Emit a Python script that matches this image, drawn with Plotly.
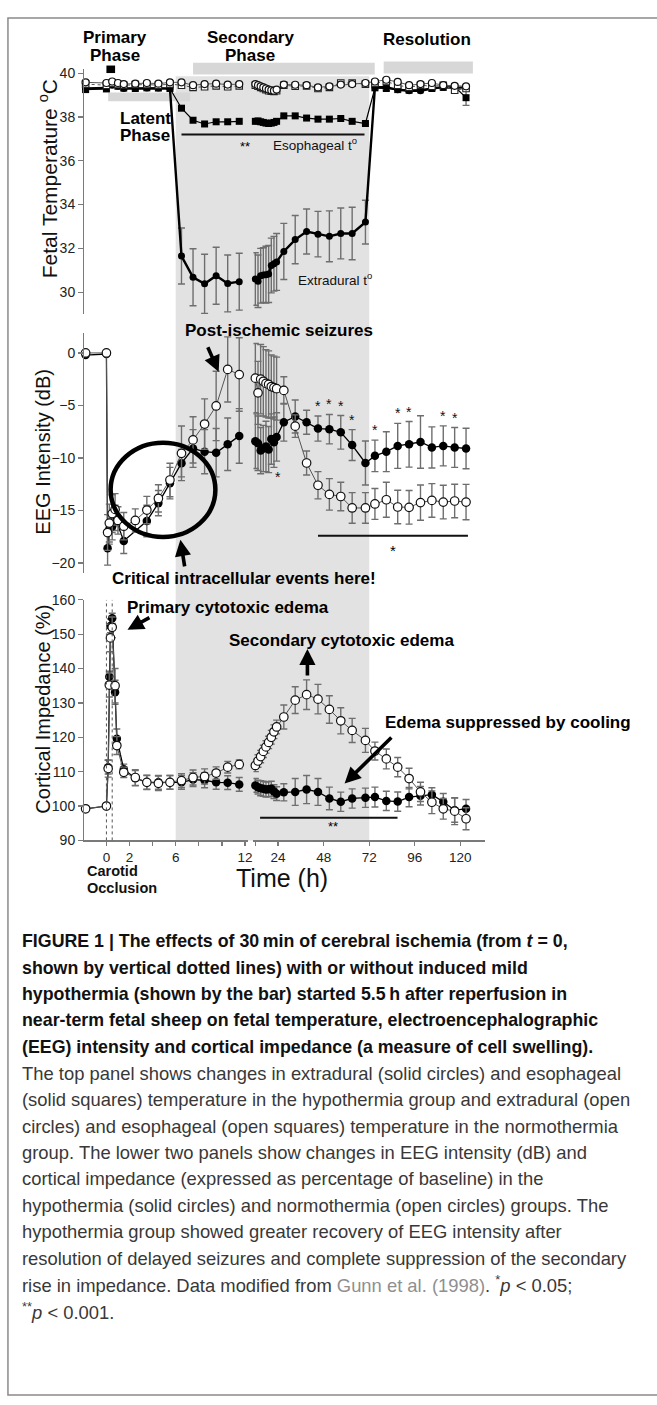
import plotly.graph_objects as go

W, H = 657, 1405
FONT = "Liberation Sans, Arial, Helvetica, sans-serif"

# ---------------- data ----------------
# time axis is broken: segment 1 = 0-12 h, segment 2 = 12-124 h
T1_TOP = [-1.8, 0, 0.5, 1, 1.5, 2.5, 3.5, 4.5, 5.5, 6.5, 7.5, 8.5, 9.5, 10.5, 11.5]
T2_CLUSTER = [12, 13.4, 14.8, 16.2, 17.6, 19, 20.4, 21.8, 23.2]
T2_REG = [27, 33, 39, 45, 51, 57, 63, 70, 75, 81, 87, 93, 99, 105, 111, 117, 123]

# Fetal temperature (deg C)
hypo_extra_1 = [39.3, 39.32, 39.45, 39.4, 39.3, 39.3, 39.32, 39.32, 39.3, 31.65, 30.68, 30.38, 30.75, 30.4, 30.48]
hypo_extra_1_err = [0.05, 0.05, 0.1, 0.1, 0.05, 0.05, 0.05, 0.05, 0.05, 1.28, 1.3, 1.35, 1.3, 1.3, 1.3]
hypo_eso_1 = [39.25, 39.28, 39.5, 39.4, 39.32, 39.3, 39.33, 39.32, 39.3, 38.4, 37.85, 37.68, 37.78, 37.78, 37.8]
normo_extra_1 = [39.58, 39.55, 39.62, 39.55, 39.5, 39.52, 39.55, 39.52, 39.58, 39.58, 39.45, 39.5, 39.52, 39.48, 39.5]
normo_eso_1 = [39.5, 39.45, 39.55, 39.48, 39.45, 39.48, 39.48, 39.45, 39.5, 39.45, 39.35, 39.38, 39.42, 39.38, 39.42]

hypo_extra_2 = [30.6, 30.5, 30.75, 30.78, 30.8, 30.83, 31.22, 31.3, 31.38,
                31.86, 32.4, 32.77, 32.65, 32.55, 32.68, 32.68, 33.2, 39.36, 39.36, 39.24, 39.2, 39.2, 39.3, 39.36, 39.33, 39.35]
hypo_extra_2_err = [1.2, 1.2, 1.25, 1.25, 1.3, 1.3, 1.25, 1.25, 1.3,
                    1.28, 1.1, 1.03, 1.04, 1.16, 1.16, 1.2, 1.0, 0.1, 0.08, 0.08, 0.08, 0.08, 0.08, 0.08, 0.08, 0.1]
hypo_eso_2 = [37.8, 37.82, 37.78, 37.75, 37.72, 37.7, 37.72, 37.75, 37.8,
              38.05, 38.05, 37.95, 37.9, 37.9, 37.93, 37.8, 37.7, 39.33, 39.3, 39.25, 39.22, 39.25, 39.3, 39.35, 39.38, 38.88]
hypo_eso_2_err = [0, 0, 0, 0, 0, 0, 0, 0, 0,
                  0, 0, 0, 0, 0, 0, 0, 0, 0.08, 0.08, 0.08, 0.08, 0.08, 0.08, 0.08, 0.1, 0.35]
normo_extra_2 = [39.5, 39.45, 39.4, 39.35, 39.3, 39.25, 39.22, 39.2, 39.25,
                 39.48, 39.47, 39.45, 39.35, 39.4, 39.48, 39.5, 39.55, 39.62, 39.7, 39.6, 39.45, 39.5, 39.55, 39.45, 39.42, 39.4]
normo_eso_2 = [39.45, 39.4, 39.35, 39.3, 39.25, 39.2, 39.18, 39.17, 39.2,
               39.45, 39.4, 39.42, 39.3, 39.35, 39.55, 39.55, 39.5, 39.55, 39.62, 39.45, 39.35, 39.45, 39.4, 39.45, 39.22, 39.3]

# EEG intensity (dB)
T1_EEG_OPEN = [-1.8, 0, 0.1, 0.25, 0.5, 0.75, 1.0, 1.5, 2.5, 3.5, 4.5, 5.5, 6.5, 7.5, 8.5, 9.5, 10.5, 11.5]
eeg_normo_1 = [0.0, 0.0, -17.1, -16.2, -15.3, -14.9, -15.95, -16.5, -15.95, -14.96, -13.85, -12.1, -9.56, -8.28, -6.77, -5.05, -1.57, -2.06]
eeg_normo_1_err = [0, 0, 1.7, 1.8, 1.8, 1.5, 1.3, 1.3, 1.1, 1.3, 1.3, 1.6, 2.6, 2.2, 2.4, 3.3, 3.1, 3.5]
T1_EEG_SOLID = [-1.8, 0, 0.1, 0.25, 0.5, 0.75, 1.5, 3.5, 4.5, 5.5, 6.5, 7.5, 8.5, 9.5, 10.5, 11.5]
eeg_hypo_1 = [-0.2, -0.1, -18.6, -16.8, -16.5, -15.7, -17.9, -16.0, -14.3, -12.4, -10.5, -9.1, -9.4, -9.5, -8.7, -7.9]
eeg_hypo_1_err = [0, 0, 1.6, 1.4, 1.3, 1.2, 1.2, 1.5, 1.2, 1.5, 1.3, 1.8, 2.1, 2.3, 2.5, 2.6]

eeg_normo_2 = [-2.4, -3.8, -2.5, -2.7, -2.9, -3.0, -3.2, -3.3, -3.4,
               -3.57, -6.97, -10.48, -12.6, -13.47, -13.67, -14.76, -14.76, -14.38, -13.98, -14.67, -14.7, -14.25, -14.04, -14.2, -14.1, -14.2]
eeg_normo_2_err = [3.3, 3.0, 3.3, 3.3, 3.2, 3.2, 3.0, 3.0, 3.0,
                   1.3, 1.07, 1.14, 1.3, 1.5, 1.36, 1.46, 1.46, 1.47, 1.67, 1.6, 1.6, 1.68, 1.6, 1.6, 1.6, 1.68]
eeg_hypo_2 = [-8.4, -8.6, -9.3, -9.1, -8.9, -9.2, -8.2, -8.5, -8.0,
              -6.6, -6.05, -6.6, -7.2, -7.26, -7.56, -8.77, -10.48, -9.8, -9.4, -8.85, -8.7, -8.48, -9.0, -8.85, -9.0, -9.1]
eeg_hypo_2_err = [2.6, 2.6, 2.2, 2.2, 2.4, 2.2, 2.4, 2.4, 2.3,
                  1.8, 1.57, 1.14, 1.2, 1.4, 1.6, 1.47, 2.1, 1.5, 1.9, 2.14, 2.17, 2.5, 1.96, 1.9, 1.9, 1.93]
# times (segment 2) of hypothermia points flagged p < 0.05
EEG_STAR_T = [45, 51, 57, 63, 75, 87, 93, 111, 117]
EEG_STAR_BELOW_T = [21.8]

# Cortical impedance (% of baseline)
T1_CI = [-1.8, 0, 0.15, 0.25, 0.35, 0.5, 0.75, 0.9, 1.5, 2.5, 3.5, 4.5, 5.5, 6.5, 7.5, 8.5, 9.5, 10.5, 11.5]
ci_normo_1 = [99.2, 100.0, 110.9, 135.2, 148.9, 152.0, 135.0, 117.6, 109.8, 108.3, 106.9, 106.6, 106.9, 107.4, 108.3, 108.6, 109.6, 111.3, 112.1]
ci_normo_1_err = [0, 0, 2.5, 3.5, 4.0, 3.0, 5.0, 2.6, 1.5, 2.3, 2.1, 2.1, 2.0, 2.0, 2.2, 2.2, 1.8, 1.7, 1.3]
ci_hypo_1 = [99.2, 100.0, 111.3, 137.6, 152.4, 154.6, 133.1, 119.6, 110.7, 108.1, 106.9, 106.9, 106.9, 106.9, 107.7, 107.5, 106.9, 106.8, 106.3]
ci_hypo_1_err = [0, 0, 2.0, 1.6, 2.0, 1.5, 3.5, 2.8, 1.5, 2.2, 2.0, 2.0, 2.0, 2.0, 2.0, 2.2, 2.0, 2.0, 2.0]

ci_normo_2 = [111.8, 113.1, 114.4, 115.9, 117.2, 118.5, 120.0, 121.6, 123.0,
              125.9, 130.8, 132.4, 131.1, 128.1, 124.8, 122.0, 119.1, 116.0, 113.7, 111.3, 108.0, 104.1, 101.1, 99.2, 98.5, 96.3]
ci_normo_2_err = [1.8, 1.8, 1.8, 1.8, 1.8, 1.8, 2.0, 2.0, 2.0,
                  3.5, 3.9, 4.3, 4.3, 4.0, 3.8, 3.5, 3.5, 2.6, 2.9, 2.8, 3.0, 2.8, 3.3, 3.0, 3.9, 3.2]
ci_hypo_2 = [106.0, 105.5, 105.2, 105.0, 104.8, 104.9, 105.0, 104.2, 103.6,
             104.0, 104.1, 104.8, 104.1, 102.2, 101.25, 102.2, 102.4, 102.6, 101.5, 101.3, 102.6, 103.0, 103.3, 101.25, 98.8, 99.2]
ci_hypo_2_err = [2.0, 2.0, 2.2, 2.2, 2.2, 2.2, 2.2, 2.0, 2.0,
                 2.5, 3.9, 4.1, 3.9, 3.3, 2.8, 2.8, 2.8, 2.9, 2.8, 2.8, 2.8, 2.7, 2.0, 2.4, 3.5, 2.7]

# Periods (h)
ISCHEMIA = (0, 0.75)
OCCLUSION_LINES = [0, 0.5]
HYPOTHERMIA = (6, 72)
LATENT_BAR = (0.15, 7.25)
SECONDARY_BAR = (7.5, 74.9)
RESOLUTION_BAR = (79.6, 126.6)
TOP_SIG = (6.5, 69.5)
EEG_SIG = (45, 124)
CI_SIG = (14.5, 86.9)

SEG1_TICKS = [0, 2, 4, 6, 8, 10, 12]
SEG1_TICKTEXT = ["0", "2", "", "6", "", "", "12"]
SEG2_TICKS = [12, 24, 48, 72, 96, 120]
SEG2_TICKTEXT = ["", "24", "48", "72", "96", "120"]

# ---------------- layout geometry (pixels) ----------------
SEG1_PX, SEG1_RANGE = (85, 250), (-1.9, 12.3)
SEG2_PX, SEG2_RANGE = (255, 488), (11, 133)
TOP_PX, TOP_RANGE = (61.7, 309.6), (29.0, 40.19)
EEG_PX, EEG_RANGE = (328.4, 572.0), (-21.0, 1.93)
CI_PX, CI_RANGE = (598.6, 842.0), (90, 160)


def px(x):
    return x / W


def py(y):
    return 1 - y / H


def t_px(t, seg):
    (p0, p1), (r0, r1) = (SEG1_PX, SEG1_RANGE) if seg == 1 else (SEG2_PX, SEG2_RANGE)
    return p0 + (t - r0) / (r1 - r0) * (p1 - p0)


def tx(t, seg):
    return px(t_px(t, seg))


fig = go.Figure()

ERR = dict(type="data", color="#6e6e6e", thickness=1.4, width=3.5)


def add(x, y, err, xa, ya, style, size=8, lw=1.2, dash="solid"):
    if style == "solid_circle":
        marker = dict(symbol="circle", size=size, color="#000", line=dict(width=0))
        lc = "#000"
    elif style == "open_circle":
        marker = dict(symbol="circle", size=size, color="#fff", line=dict(color="#111", width=1.2))
        lc = "#555"
    elif style == "solid_square":
        marker = dict(symbol="square", size=size, color="#000", line=dict(width=0))
        lc = "#000"
    else:
        marker = dict(symbol="square", size=size, color="#fff", line=dict(color="#222", width=1.1))
        lc = "#555"
    e = dict(ERR, array=err, visible=True) if err is not None else dict(visible=False)
    fig.add_trace(go.Scatter(x=x, y=y, mode="lines+markers", marker=marker,
                             line=dict(color=lc, width=lw, dash=dash), error_y=e,
                             xaxis=xa, yaxis=ya, showlegend=False, hoverinfo="skip",
                             cliponaxis=False))


T2 = T2_CLUSTER + T2_REG

# --- top panel (temperature)
add(T1_TOP, hypo_eso_1, None, "x", "y", "solid_square", size=7, lw=1.2)
add(T1_TOP, hypo_extra_1, hypo_extra_1_err, "x", "y", "solid_circle", size=7, lw=2.4)
add(T1_TOP, normo_eso_1, None, "x", "y", "open_square", size=6.5, lw=1, dash="dot")
add(T1_TOP, normo_extra_1, None, "x", "y", "open_circle", size=7, lw=1)
add(T2, hypo_eso_2, hypo_eso_2_err, "x2", "y2", "solid_square", size=7, lw=1.2)
add(T2, hypo_extra_2, hypo_extra_2_err, "x2", "y2", "solid_circle", size=7, lw=2.4)
add(T2, normo_eso_2, None, "x2", "y2", "open_square", size=6.5, lw=1, dash="dot")
add(T2, normo_extra_2, None, "x2", "y2", "open_circle", size=7, lw=1)

# --- EEG panel
add(T1_EEG_SOLID, eeg_hypo_1, eeg_hypo_1_err, "x3", "y3", "solid_circle", size=8.5, lw=1.3)
add(T1_EEG_OPEN, eeg_normo_1, eeg_normo_1_err, "x3", "y3", "open_circle", size=8.5, lw=1)
add(T2, eeg_hypo_2, eeg_hypo_2_err, "x4", "y4", "solid_circle", size=8.5, lw=1.3)
add(T2, eeg_normo_2, eeg_normo_2_err, "x4", "y4", "open_circle", size=8.5, lw=1)

# --- cortical impedance panel
add(T1_CI, ci_hypo_1, ci_hypo_1_err, "x5", "y5", "solid_circle", size=8.5, lw=1.3)
add(T1_CI, ci_normo_1, ci_normo_1_err, "x5", "y5", "open_circle", size=8.5, lw=1)
add(T2, ci_hypo_2, ci_hypo_2_err, "x6", "y6", "solid_circle", size=8.5, lw=1.3)
add(T2, ci_normo_2, ci_normo_2_err, "x6", "y6", "open_circle", size=8.5, lw=1)

# ---------------- axes ----------------
YAX = dict(showline=True, linecolor="#7a7a7a", linewidth=1.5, ticks="outside", ticklen=5,
           tickwidth=1.3, tickcolor="#7a7a7a", tickfont=dict(size=14, color="#222", family=FONT),
           showgrid=False, zeroline=False, fixedrange=True)
HID = dict(visible=False, showgrid=False, zeroline=False, fixedrange=True)
XB = dict(showline=True, linecolor="#7a7a7a", linewidth=1.5, ticks="outside", ticklen=4,
          tickwidth=1.3, tickcolor="#7a7a7a", tickfont=dict(size=13.5, color="#222", family=FONT),
          showgrid=False, zeroline=False, fixedrange=True, tickmode="array")

d1 = [px(SEG1_PX[0]), px(SEG1_PX[1])]
d2 = [px(SEG2_PX[0]), px(SEG2_PX[1])]


def ydom(p):
    return [py(p[1]), py(p[0])]


fig.update_layout(
    xaxis=dict(HID, domain=d1, range=list(SEG1_RANGE), anchor="y"),
    yaxis=dict(YAX, domain=ydom(TOP_PX), range=list(TOP_RANGE), anchor="x",
               tickvals=[30, 32, 34, 36, 38, 40]),
    xaxis2=dict(HID, domain=d2, range=list(SEG2_RANGE), anchor="y2"),
    yaxis2=dict(HID, domain=ydom(TOP_PX), range=list(TOP_RANGE), anchor="x2"),
    xaxis3=dict(HID, domain=d1, range=list(SEG1_RANGE), anchor="y3"),
    yaxis3=dict(YAX, domain=ydom(EEG_PX), range=list(EEG_RANGE), anchor="x3",
                tickvals=[0, -5, -10, -15, -20]),
    xaxis4=dict(HID, domain=d2, range=list(SEG2_RANGE), anchor="y4"),
    yaxis4=dict(HID, domain=ydom(EEG_PX), range=list(EEG_RANGE), anchor="x4"),
    xaxis5=dict(XB, domain=d1, range=list(SEG1_RANGE), anchor="y5",
                tickvals=SEG1_TICKS, ticktext=SEG1_TICKTEXT),
    yaxis5=dict(YAX, domain=ydom(CI_PX), range=list(CI_RANGE), anchor="x5",
                tickvals=[90, 100, 110, 120, 130, 140, 150, 160]),
    xaxis6=dict(XB, domain=d2, range=list(SEG2_RANGE), anchor="y6",
                tickvals=SEG2_TICKS, ticktext=SEG2_TICKTEXT),
    yaxis6=dict(HID, domain=ydom(CI_PX), range=list(CI_RANGE), anchor="x6"),
)

# ---------------- shapes ----------------
BAR = "#d7d7d7"
shapes = []
# figure frame
shapes.append(dict(type="rect", xref="paper", yref="paper", x0=px(8), x1=px(690), y0=py(1403), y1=py(10),
                   line=dict(color="#8a8a8a", width=1.5), fillcolor="rgba(0,0,0,0)", layer="below"))
# hypothermia shading
shapes.append(dict(type="rect", xref="paper", yref="paper", x0=tx(HYPOTHERMIA[0], 1), x1=tx(HYPOTHERMIA[1], 2),
                   y0=py(CI_PX[1]), y1=py(69), fillcolor="#e2e2e2", line=dict(width=0), layer="below"))
# phase bars
shapes.append(dict(type="rect", xref="paper", yref="paper", x0=tx(SECONDARY_BAR[0], 1), x1=tx(SECONDARY_BAR[1], 2),
                   y0=py(67.2), y1=py(55.4), fillcolor=BAR, line=dict(width=0), layer="below"))
shapes.append(dict(type="rect", xref="paper", yref="paper", x0=tx(RESOLUTION_BAR[0], 2), x1=tx(RESOLUTION_BAR[1], 2),
                   y0=py(66.3), y1=py(54), fillcolor=BAR, line=dict(width=0), layer="below"))
shapes.append(dict(type="rect", xref="paper", yref="paper", x0=tx(LATENT_BAR[0], 1), x1=tx(LATENT_BAR[1], 1),
                   y0=py(94.4), y1=py(85.4), fillcolor=BAR, line=dict(width=0), layer="below"))
# ischemia marker
shapes.append(dict(type="rect", xref="paper", yref="paper", x0=tx(ISCHEMIA[0], 1), x1=tx(ISCHEMIA[1], 1),
                   y0=py(65.8), y1=py(58.2), fillcolor="#000", line=dict(width=0)))
# significance lines
shapes.append(dict(type="line", xref="paper", yref="paper", x0=tx(TOP_SIG[0], 1), x1=tx(TOP_SIG[1], 2),
                   y0=py(128), y1=py(128), line=dict(color="#111", width=2)))
shapes.append(dict(type="line", xref="x4", yref="y4", x0=EEG_SIG[0], x1=EEG_SIG[1], y0=-17.4, y1=-17.4,
                   line=dict(color="#111", width=2)))
shapes.append(dict(type="line", xref="x6", yref="y6", x0=CI_SIG[0], x1=CI_SIG[1], y0=96.6, y1=96.6,
                   line=dict(color="#111", width=2)))
# occlusion dotted lines
for t in OCCLUSION_LINES:
    shapes.append(dict(type="line", xref="x5", yref="y5", x0=t, x1=t, y0=CI_RANGE[0], y1=CI_RANGE[1],
                       line=dict(color="#555", width=1, dash="dot")))
# circle around early EEG recovery
shapes.append(dict(type="circle", xref="paper", yref="paper", x0=px(111.3), x1=px(216.7),
                   y0=py(535.0), y1=py(439.7), line=dict(color="#000", width=4.5)))

fig.update_layout(shapes=shapes)

# ---------------- annotations ----------------
ann = []


def text(x, y, s, size=17, bold=False, anchor="center", color="#000", angle=0):
    ann.append(dict(xref="paper", yref="paper", x=px(x), y=py(y), text=("<b>%s</b>" % s) if bold else s,
                    showarrow=False, xanchor=anchor, yanchor="middle", textangle=angle,
                    font=dict(size=size, color=color, family=FONT)))


def arrow(head, tail):
    ann.append(dict(xref="paper", yref="paper", x=px(head[0]), y=py(head[1]), text="", showarrow=True,
                    ax=tail[0] - head[0], ay=tail[1] - head[1], axref="pixel", ayref="pixel",
                    arrowhead=2, arrowsize=0.9, arrowwidth=3.6, arrowcolor="#000"))


text(116, 30, "Primary", bold=True)
text(116, 48, "Phase", bold=True)
text(252, 30, "Secondary", bold=True)
text(252, 48, "Phase", bold=True)
text(430, 31.8, "Resolution", bold=True)
text(119, 111.7, "Latent", bold=True, anchor="left")
text(119, 129, "Phase", bold=True, anchor="left")
text(247, 140, "**", size=13)
text(317, 138, "Esophageal t<sup>o</sup>", size=13.5, color="#111")
text(337, 274, "Extradural t<sup>o</sup>", size=13.5, color="#111")

text(48, 172.5, "Fetal Temperature <sup>o</sup>C", size=21, angle=-90, color="#111")
text(43, 449, "EEG Intensity (dB)", size=20, angle=-90, color="#111")
text(43, 709, "Cortical Impedance (%)", size=20, angle=-90, color="#111")

text(281, 326, "Post-ischemic seizures", bold=True)
arrow((220, 368), (208.5, 342))
text(245, 577, "Critical intracellular events here!", bold=True)
arrow((181.5, 538), (186, 566))
text(395, 548.4, "*", size=15)

text(229, 606.5, "Primary cytotoxic edema", bold=True)
arrow((128.3, 629), (151.7, 615.9))
text(344, 640, "Secondary cytotoxic edema", bold=True)
arrow((309.3, 648.3), (309.3, 676.5))
text(511, 723, "Edema suppressed by cooling", bold=True)
arrow((346.7, 784.5), (395, 737))
text(335, 828, "**", size=13)

text(86, 873, "Carotid", size=14.5, bold=True, anchor="left", color="#111")
text(86, 890, "Occlusion", size=14.5, bold=True, anchor="left", color="#111")
text(284, 880, "Time (h)", size=25, color="#111")

# significance stars above hypothermia EEG points
for t in EEG_STAR_T:
    i = T2.index(t)
    ann.append(dict(xref="x4", yref="y4", x=t, y=eeg_hypo_2[i] + eeg_hypo_2_err[i], text="*", showarrow=False,
                    yanchor="bottom", font=dict(size=14, color="#111", family=FONT)))
for t in EEG_STAR_BELOW_T:
    i = T2.index(t)
    ann.append(dict(xref="x4", yref="y4", x=t + 2, y=eeg_hypo_2[i] - eeg_hypo_2_err[i], text="*", showarrow=False,
                    yanchor="top", font=dict(size=14, color="#111", family=FONT)))

# caption
CAPTION_BOLD = [
    "FIGURE 1 | The effects of 30\u2009min of cerebral ischemia (from <i>t</i> = 0,",
    "shown by vertical dotted lines) with or without induced mild",
    "hypothermia (shown by the bar) started 5.5\u2009h after reperfusion in",
    "near-term fetal sheep on fetal temperature, electroencephalographic",
    "(EEG) intensity and cortical impedance (a measure of cell swelling).",
]
CAPTION_REG = [
    "The top panel shows changes in extradural (solid circles) and esophageal",
    "(solid squares) temperature in the hypothermia group and extradural (open",
    "circles) and esophageal (open squares) temperature in the normothermia",
    "group. The lower two panels show changes in EEG intensity (dB) and",
    "cortical impedance (expressed as percentage of baseline) in the",
    "hypothermia (solid circles) and normothermia (open circles) groups. The",
    "hypothermia group showed greater recovery of EEG intensity after",
    "resolution of delayed seizures and complete suppression of the secondary",
    "rise in impedance. Data modified from <span style='color:#8f8f8f'>Gunn et al. (1998)</span>. <sup>*</sup><i>p</i> &lt; 0.05;",
    "<sup>**</sup><i>p</i> &lt; 0.001.",
]
y0, dy = 944, 26.7
for k, s in enumerate(CAPTION_BOLD):
    text(20, y0 + dy * k, s, size=17.8, bold=True, anchor="left", color="#111")
for k, s in enumerate(CAPTION_REG):
    text(20, y0 + dy * (k + len(CAPTION_BOLD)), s, size=18.4, anchor="left", color="#383838")

fig.update_layout(annotations=ann, width=W, height=H, margin=dict(l=0, r=0, t=0, b=0),
                  paper_bgcolor="#fff", plot_bgcolor="rgba(0,0,0,0)", font=dict(family=FONT),
                  showlegend=False)

fig.write_html("out.html", config={"displayModeBar": False, "staticPlot": True},
               post_script="document.body.style.margin='0';document.body.style.overflow='hidden';")
